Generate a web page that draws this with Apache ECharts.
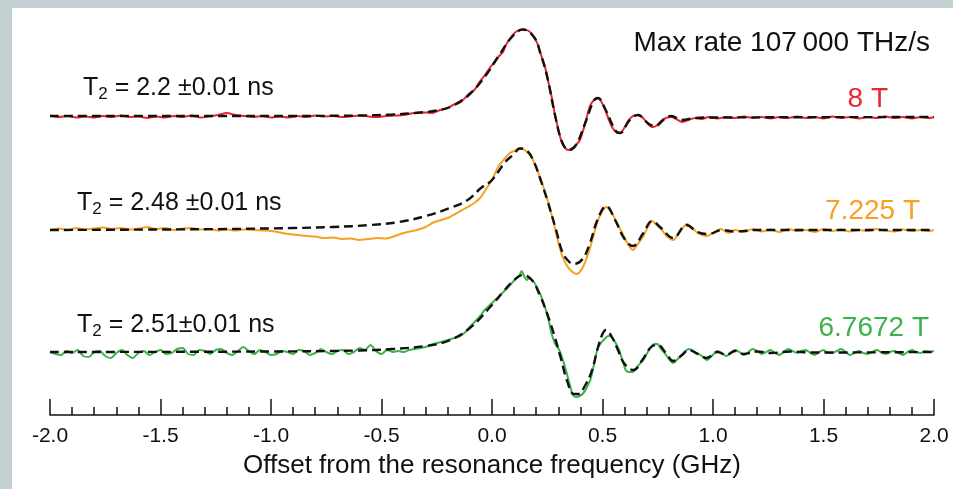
<!DOCTYPE html>
<html><head><meta charset="utf-8">
<script src="https://cdn.jsdelivr.net/npm/echarts@6/dist/echarts.min.js"></script>
<style>html,body{margin:0;padding:0;background:#fff}#c{width:953px;height:489px}</style>
</head><body><div id="c"></div>
<script>
// x: offset from resonance (GHz); values: signal (arb. units, relative to each trace's baseline)
const xTicks = [-2.0, -1.5, -1.0, -0.5, 0.0, 0.5, 1.0, 1.5, 2.0];
const traceNames = ['8 T', '7.225 T', '6.7672 T'];
const t2Labels = ['2.2 \u00b10.01 ns', '2.48 \u00b10.01 ns', '2.51\u00b10.01 ns'];
const titleText = 'Max rate 107\u2009000 THz/s';

const red8T = [[-2.00,0.5],[-1.96,-1],[-1.92,0],[-1.88,-1.5],[-1.84,-0.5],[-1.80,-1.5],[-1.76,0],[-1.72,-1],[-1.68,0.5],[-1.64,-1],[-1.60,-0.5],[-1.56,-2],[-1.52,-0.5],[-1.48,-1.5],[-1.44,0],[-1.40,-1],[-1.36,0.5],[-1.32,-1.5],[-1.28,-0.5],[-1.24,1],[-1.20,3],[-1.16,1],[-1.12,0],[-1.08,-1],[-1.04,0],[-1.00,-1.5],[-0.96,-0.5],[-0.92,-1.5],[-0.88,0],[-0.84,-1],[-0.80,0.5],[-0.76,-0.5],[-0.72,0],[-0.68,-1],[-0.64,-0.5],[-0.60,0.5],[-0.56,-0.5],[-0.52,-1],[-0.48,0],[-0.44,0.5],[-0.40,1],[-0.35,3],[-0.30,3.5],[-0.27,3],[-0.235,6],[-0.20,8],[-0.176,11],[-0.15,13],[-0.136,15],[-0.10,23],[-0.08,26],[-0.063,32],[-0.032,41],[0,51],[0.032,60],[0.05,64],[0.063,71],[0.09,80],[0.113,85],[0.14,86.5],[0.167,85],[0.19,79],[0.208,71],[0.222,61],[0.24,49],[0.253,36],[0.271,18],[0.285,1],[0.303,-16],[0.317,-27],[0.335,-33],[0.348,-34],[0.367,-32],[0.38,-29],[0.398,-24],[0.421,-8],[0.443,10],[0.462,16],[0.48,18],[0.493,15],[0.511,7],[0.529,-4],[0.543,-11],[0.561,-16],[0.575,-17],[0.593,-14],[0.615,-5],[0.638,0],[0.661,1],[0.683,-2],[0.706,-8],[0.724,-11],[0.742,-10],[0.765,-5],[0.787,-2],[0.81,-1],[0.833,-3],[0.86,-6],[0.887,-4],[0.92,-2],[0.95,-3],[0.98,-1],[1.02,-2.5],[1.06,-1],[1.10,-2],[1.14,-0.5],[1.18,-2],[1.22,-1],[1.26,-2.5],[1.30,-1],[1.34,-2],[1.38,-0.5],[1.42,-2],[1.46,-1],[1.50,-2.5],[1.54,-0.5],[1.58,-2],[1.62,-1],[1.66,-2.5],[1.70,-1],[1.74,-2],[1.78,-0.5],[1.82,-2],[1.86,-1],[1.90,-2.5],[1.94,-1],[1.98,-2],[2.00,-1]];
const red8TFit = [[-2.0,0],[-1.0,0],[-0.6,0.5],[-0.45,1.5],[-0.35,3],[-0.25,5.5],[-0.18,10],[-0.1,22],[-0.03,40],[0.03,60],[0.09,79],[0.14,86.5],[0.19,79],[0.22,62],[0.25,39],[0.285,1],[0.317,-26],[0.348,-34],[0.38,-29],[0.42,-8],[0.46,15],[0.48,18],[0.51,8],[0.56,-15],[0.58,-17],[0.62,-5],[0.66,1],[0.71,-8],[0.74,-10],[0.78,-3],[0.81,0],[0.86,-4],[0.92,-2],[1.0,-1.5],[2.0,-1]];

const orange7T = [[-2.00,0],[-1.96,1.5],[-1.92,0],[-1.88,2],[-1.84,0.5],[-1.80,1.5],[-1.76,2.5],[-1.72,1],[-1.68,2],[-1.64,0.5],[-1.60,1.5],[-1.56,3],[-1.52,1],[-1.48,2],[-1.44,0],[-1.40,1.5],[-1.36,2],[-1.32,0.5],[-1.28,1],[-1.24,-0.5],[-1.20,0.5],[-1.16,-0.5],[-1.12,0.5],[-1.08,0],[-1.04,-0.5],[-1.00,-1],[-0.96,-2.5],[-0.92,-4],[-0.88,-5],[-0.84,-6],[-0.80,-6.5],[-0.76,-8],[-0.72,-7.5],[-0.68,-9],[-0.64,-8.5],[-0.60,-10],[-0.56,-9],[-0.52,-8],[-0.48,-8.5],[-0.44,-6],[-0.40,-3],[-0.36,-1],[-0.34,0],[-0.30,3],[-0.27,7],[-0.23,10],[-0.19,13],[-0.15,18],[-0.11,23],[-0.08,27],[-0.05,33],[-0.03,40],[0.0,50],[0.03,64],[0.06,72],[0.08,77],[0.10,79],[0.126,82],[0.14,81],[0.158,78],[0.175,74],[0.19,68],[0.205,60],[0.222,50],[0.237,40],[0.253,29],[0.27,15],[0.286,1],[0.30,-12],[0.318,-26],[0.335,-34],[0.35,-39],[0.365,-42],[0.381,-44],[0.397,-42],[0.414,-36],[0.43,-27],[0.445,-17],[0.46,-5],[0.477,8],[0.497,18],[0.517,23],[0.537,19],[0.557,11],[0.58,1],[0.605,-10],[0.62,-16],[0.637,-20],[0.66,-14],[0.685,-6],[0.705,3],[0.724,9],[0.745,5],[0.765,1],[0.79,-6],[0.82,-10],[0.85,-1],[0.884,6],[0.91,1],[0.932,-3],[0.972,-6],[1.0,-3],[1.036,1],[1.07,-3],[1.1,0],[1.14,-2],[1.18,1],[1.22,-1.5],[1.26,0.5],[1.30,-2],[1.34,1],[1.38,-1],[1.42,0],[1.46,-2],[1.5,1],[1.54,-1],[1.58,0.5],[1.62,-1.5],[1.66,0],[1.70,-1],[1.74,1],[1.78,-0.5],[1.82,-1.5],[1.86,0.5],[1.90,-1],[1.94,0],[1.98,-1],[2.0,0]];
const orange7TFit = [[-2.0,0],[-1.5,0.5],[-1.2,1],[-0.9,2],[-0.72,3],[-0.55,5],[-0.42,8],[-0.3,14],[-0.19,22],[-0.11,30],[-0.05,42],[0.0,50],[0.06,68],[0.1,76],[0.126,81.5],[0.16,79],[0.19,68],[0.22,50],[0.25,30],[0.29,0],[0.32,-23],[0.35,-32],[0.37,-34],[0.41,-29],[0.445,-12],[0.477,10],[0.517,24],[0.557,10],[0.6,-9],[0.637,-16],[0.685,-3],[0.724,9],[0.765,2],[0.82,-8],[0.88,5],[0.93,-2],[0.98,-4],[1.04,0],[1.1,-1.5],[1.2,0],[2.0,0]];

const green6T = [[-2.000,0],[-1.975,-2],[-1.950,-3],[-1.925,1],[-1.900,-1],[-1.875,2],[-1.850,-4],[-1.825,-5],[-1.800,0],[-1.775,1],[-1.750,-4],[-1.725,-6],[-1.700,-1],[-1.675,2],[-1.650,-3],[-1.625,-6],[-1.600,-1],[-1.575,1],[-1.550,-3],[-1.525,0],[-1.500,2],[-1.475,-2],[-1.450,-1],[-1.425,3],[-1.400,4],[-1.375,-2],[-1.350,-3],[-1.325,2],[-1.300,1],[-1.275,-2],[-1.250,2],[-1.225,3],[-1.200,-1],[-1.175,-3],[-1.150,1],[-1.125,5],[-1.100,1],[-1.075,-2],[-1.050,2],[-1.025,0],[-1.000,-3],[-0.975,-2],[-0.950,1],[-0.925,0],[-0.900,-2],[-0.875,2],[-0.850,1],[-0.825,-3],[-0.800,-1],[-0.775,3],[-0.750,0],[-0.725,-2],[-0.700,1],[-0.675,2],[-0.650,-2],[-0.625,0],[-0.600,4],[-0.575,2],[-0.550,7],[-0.525,1],[-0.500,-2],[-0.475,2],[-0.450,0],[-0.425,1],[-0.400,0],[-0.375,2],[-0.350,3],[-0.325,4],[-0.300,5],[-0.267,8],[-0.23,10],[-0.2,12],[-0.17,14],[-0.145,16],[-0.12,20],[-0.097,26],[-0.07,32],[-0.05,37],[-0.033,42],[0,49],[0.047,59],[0.07,64],[0.094,70],[0.113,74],[0.125,77],[0.134,81],[0.145,76],[0.158,72],[0.168,74],[0.176,73],[0.19,70],[0.205,64],[0.222,56],[0.238,46],[0.253,35],[0.27,18],[0.286,8],[0.302,3],[0.318,-6],[0.333,-17],[0.35,-31],[0.366,-43],[0.381,-45],[0.397,-44],[0.414,-41],[0.43,-35],[0.445,-28],[0.46,-14],[0.477,3],[0.493,9],[0.509,13],[0.525,16],[0.541,15],[0.557,10],[0.573,3],[0.59,-8],[0.605,-18],[0.62,-20],[0.637,-20],[0.66,-14],[0.685,-8],[0.7,-2],[0.717,4.5],[0.735,8],[0.748,8],[0.765,3],[0.781,-1],[0.8,-7],[0.82,-11],[0.84,-7],[0.86,-2.5],[0.875,1],[0.892,3],[0.915,0],[0.94,-2.5],[0.955,-5],[0.972,-8],[0.995,-4],[1.019,1],[1.04,-1],[1.06,-4],[1.08,-1],[1.10,2],[1.12,0],[1.14,-3],[1.16,0],[1.18,3],[1.20,1],[1.22,-2],[1.24,0],[1.26,2],[1.28,-1],[1.30,-3],[1.32,0],[1.34,3],[1.36,1],[1.38,-1],[1.40,1],[1.42,2],[1.44,-1],[1.46,-3],[1.48,0],[1.50,2],[1.52,-1],[1.54,-1],[1.56,1],[1.58,3],[1.60,0],[1.62,-3],[1.64,-1],[1.66,1],[1.68,-1],[1.70,-2],[1.72,0],[1.74,2],[1.76,0],[1.78,-2],[1.80,0],[1.82,1],[1.84,-1],[1.86,-3],[1.88,0],[1.90,2],[1.92,0],[1.94,-1],[1.96,1],[1.98,0],[2.0,1]];
const green6TFit = [[-2.0,0],[-1.0,0.5],[-0.6,1.5],[-0.45,3],[-0.3,6],[-0.2,11],[-0.1,24],[0,47],[0.05,60],[0.1,72],[0.14,77],[0.18,72],[0.22,55],[0.25,38],[0.28,18],[0.31,-5],[0.34,-29],[0.37,-42],[0.39,-42],[0.42,-34],[0.45,-20],[0.48,5],[0.5,18],[0.515,22],[0.54,16],[0.57,2],[0.6,-12],[0.64,-18],[0.68,-8],[0.72,5],[0.75,7],[0.79,-2],[0.82,-9],[0.86,-3],[0.89,2],[0.94,-3],[0.97,-6],[1.02,0],[1.06,-3],[1.1,1],[1.14,-2],[1.2,0.5],[1.26,-1],[1.35,0.5],[1.45,-0.5],[2.0,0]];

// vertical stacking offsets of the three traces (layout)
const offsets = [299, 185, 63];
const colors = ['#e8262d', '#f6a11f', '#3bb34a'];

const shift = (arr, o) => arr.map(p => [p[0], p[1] + o]);
const chart = echarts.init(document.getElementById('c'), null, {renderer: 'canvas'});
const dataSets = [red8T, orange7T, green6T];
const fitSets = [red8TFit, orange7TFit, green6TFit];
const series = [];
dataSets.forEach((d, i) => series.push({type: 'line', data: shift(d, offsets[i]), showSymbol: false, smooth: 0.25,
  lineStyle: {color: colors[i], width: 2}, z: 2, silent: true}));
fitSets.forEach((d, i) => series.push({type: 'line', data: shift(d, offsets[i]), showSymbol: false, smooth: 0.4,
  lineStyle: {color: '#111', width: 2.4, type: [9, 5]}, z: 3, silent: true}));

const sans = "'Liberation Sans',Arial,sans-serif";
const t2Pos = [[83, 88], [77, 203], [77, 325]];
const namePos = [[888, 99], [920, 211], [929, 328]];
const graphics = [
  {type: 'rect', shape: {x: 0, y: 0, width: 953, height: 8}, style: {fill: '#c4d1d3'}, z: 10},
  {type: 'rect', shape: {x: 0, y: 0, width: 12, height: 489}, style: {fill: '#c4d1d3'}, z: 10},
  {type: 'text', x: 930, y: 43, style: {text: titleText, fill: '#111', font: '28px ' + sans, textAlign: 'right', textVerticalAlign: 'middle'}, z: 10}
];
t2Labels.forEach((t, i) => graphics.push({type: 'text', x: t2Pos[i][0], y: t2Pos[i][1], z: 10,
  style: {text: '{a|T}{b|2}{a| = ' + t + '}', textAlign: 'left', textVerticalAlign: 'middle',
    rich: {a: {fontSize: 25, fontFamily: sans, fill: '#111', lineHeight: 30},
           b: {fontSize: 17, fontFamily: sans, fill: '#111', lineHeight: 18, verticalAlign: 'bottom'}}}}));
traceNames.forEach((t, i) => graphics.push({type: 'text', x: namePos[i][0], y: namePos[i][1], z: 10,
  style: {text: t, fill: colors[i], font: '28px ' + sans, textAlign: 'right', textVerticalAlign: 'middle'}}));

chart.setOption({
  animation: false,
  grid: {left: 50, right: 19, top: 15, bottom: 74},
  xAxis: {type: 'value', min: -2, max: 2, interval: 0.5,
    name: 'Offset from the resonance frequency (GHz)', nameLocation: 'middle', nameGap: 38,
    nameTextStyle: {fontSize: 26, fontFamily: sans, color: '#111'},
    axisLine: {show: true, lineStyle: {color: '#111', width: 1.5}},
    axisTick: {show: true, inside: true, length: 16, lineStyle: {color: '#111', width: 1.5}},
    minorTick: {show: true, splitNumber: 5, length: 8, lineStyle: {color: '#111', width: 1.5}},
    splitLine: {show: false}, minorSplitLine: {show: false},
    axisLabel: {fontSize: 21, fontFamily: sans, color: '#111', margin: 11,
      formatter: v => (xTicks.find(t => Math.abs(t - v) < 1e-9) ?? v).toFixed(1)}},
  yAxis: {type: 'value', min: 0, max: 400, show: false, splitLine: {show: false}},
  graphic: graphics,
  series: series
});
</script></body></html>
